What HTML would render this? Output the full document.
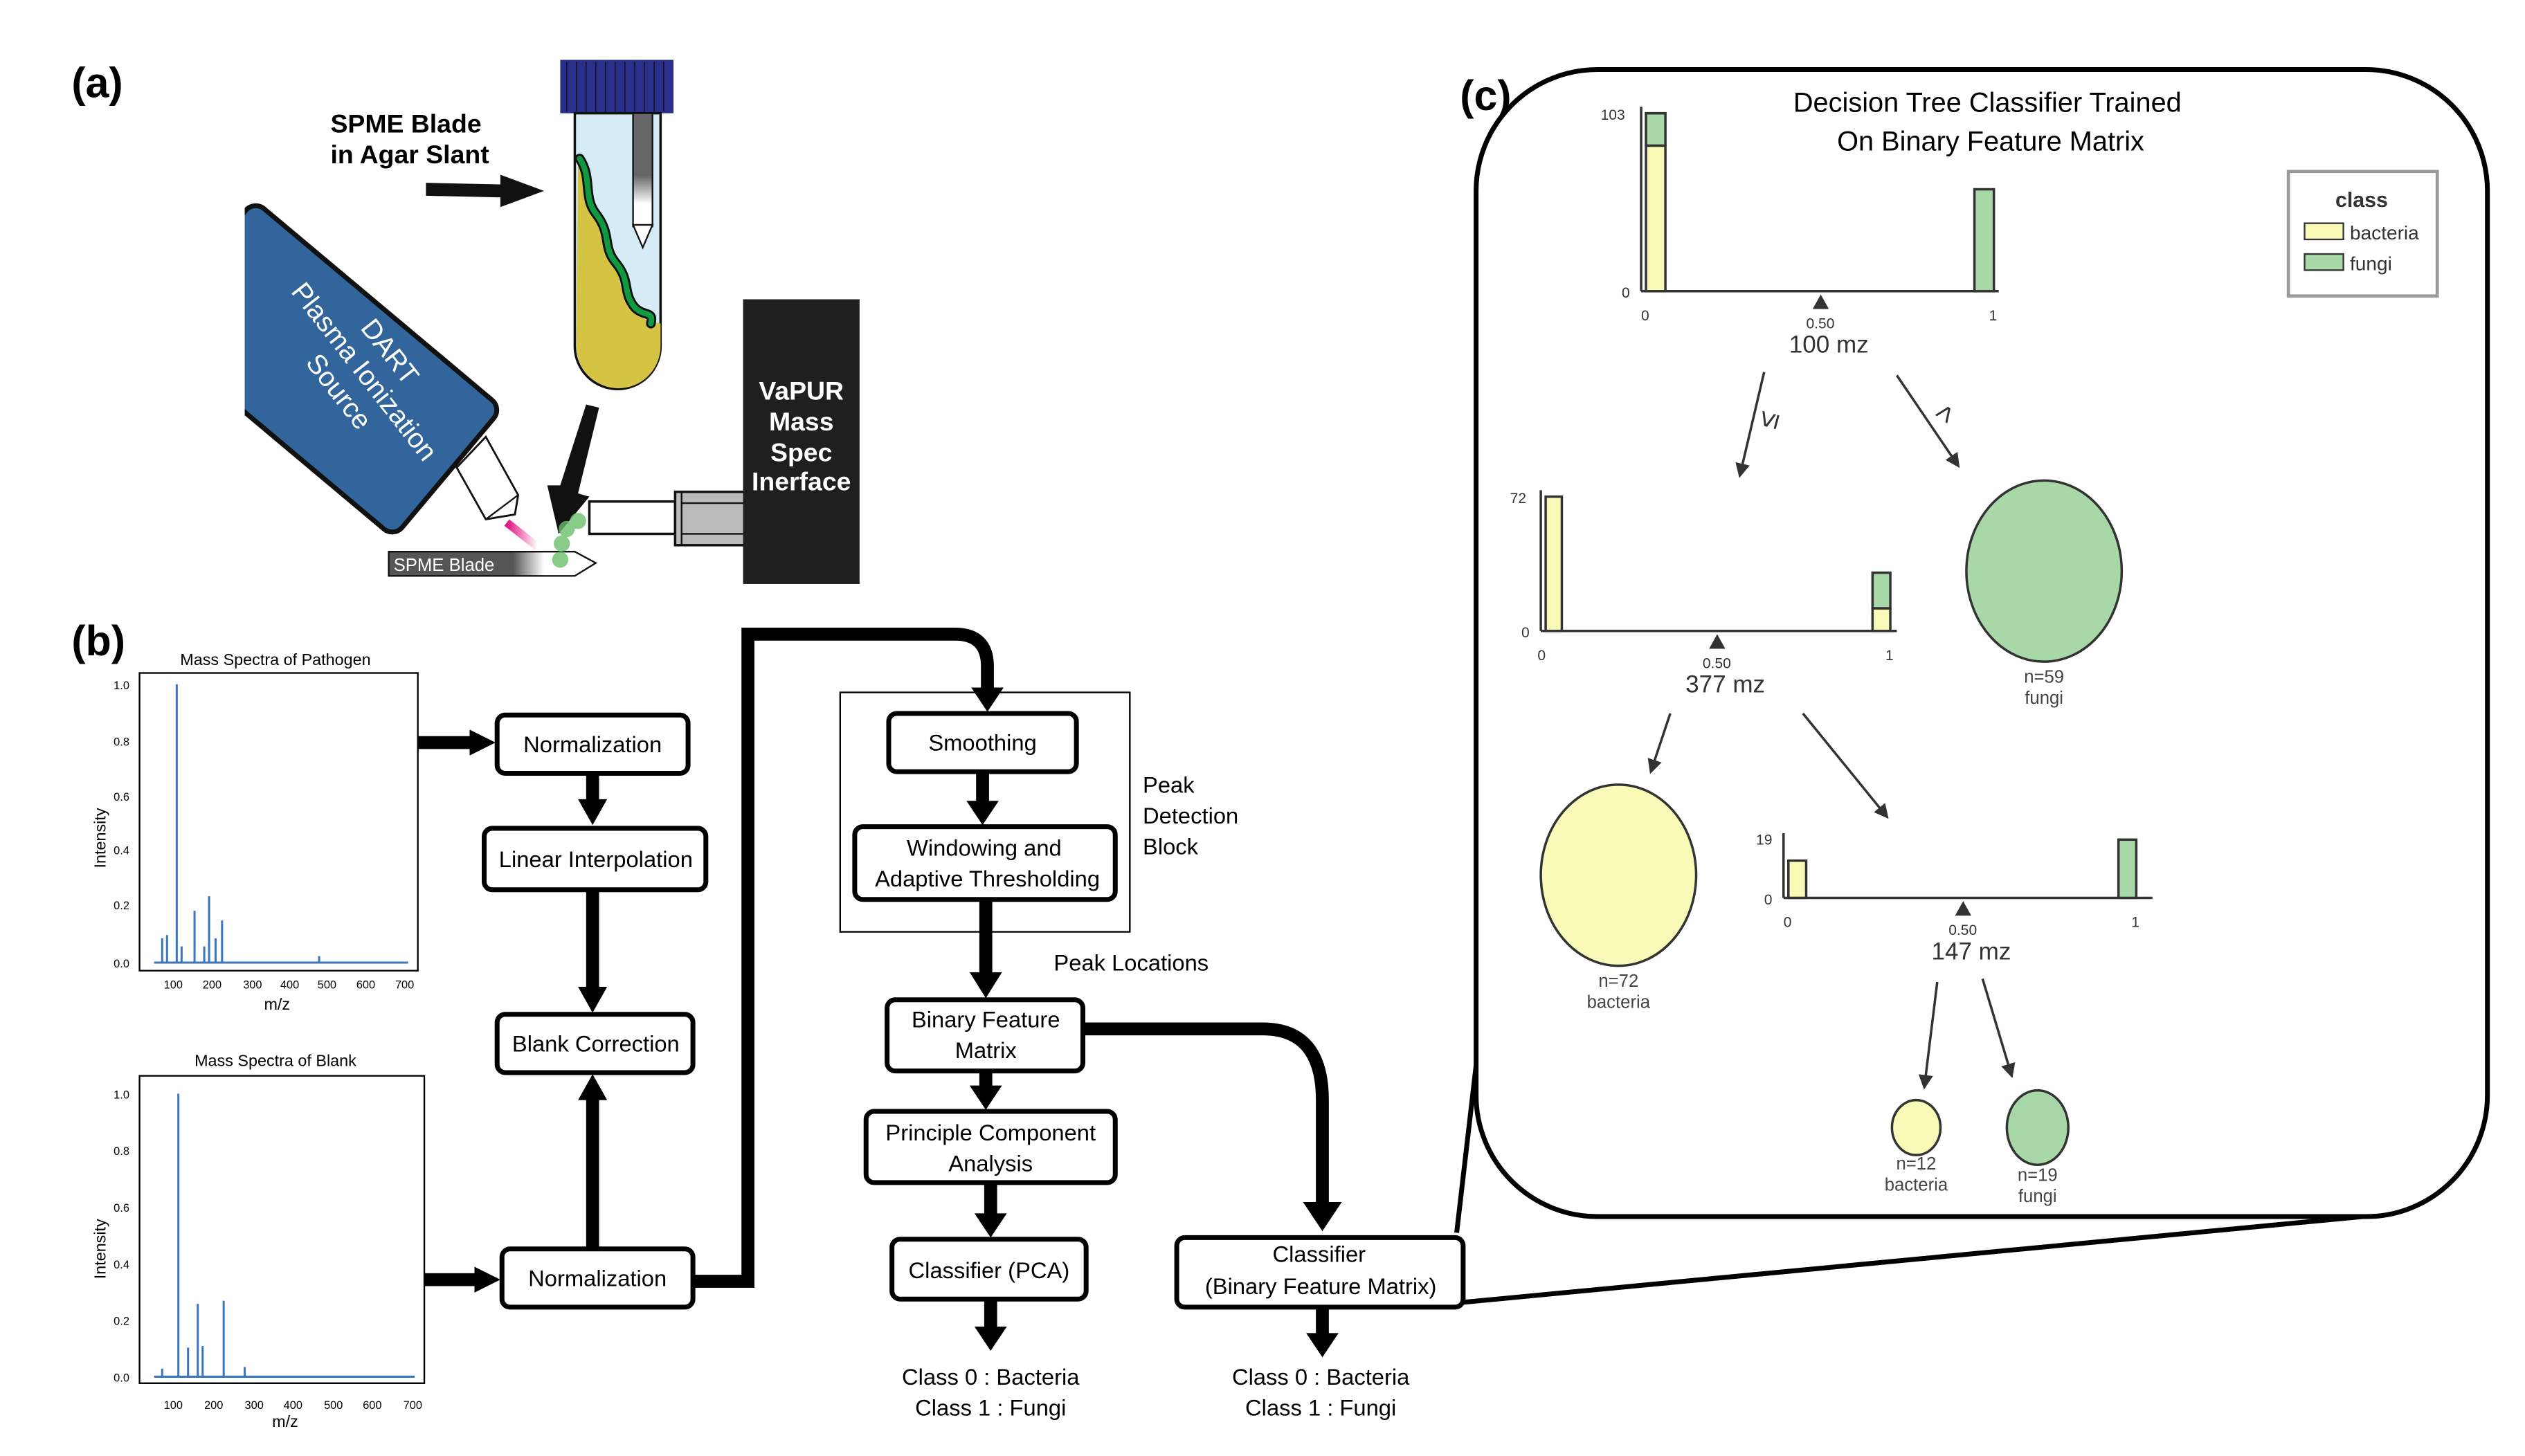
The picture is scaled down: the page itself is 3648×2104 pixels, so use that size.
<!DOCTYPE html>
<html><head><meta charset="utf-8"><style>
html,body{margin:0;padding:0;background:#fff}
svg{display:block}
text{font-family:"Liberation Sans",sans-serif}
.b{fill:#fff;stroke:#000;stroke-width:3}
.bt{font-size:14px;text-anchor:middle}
.ax{stroke:#000;stroke-width:1;fill:none}
.tk{font-size:7px}
</style></head><body>
<svg width="3648" height="2104" viewBox="0 0 1560 900" xmlns="http://www.w3.org/2000/svg">
<defs>
<marker id="ah" markerWidth="6" markerHeight="6" refX="5" refY="3" orient="auto"><path d="M0,0 L6,3 L0,6 z" fill="#333"/></marker>
<linearGradient id="gb" x1="0" x2="1"><stop offset="0.6" stop-color="#555"/><stop offset="0.75" stop-color="#fff"/></linearGradient>
<linearGradient id="gp" x1="0" x2="1"><stop offset="0" stop-color="#e0107f"/><stop offset="1" stop-color="#fff"/></linearGradient>
<linearGradient id="gs" x1="0" y1="0" x2="0" y2="1"><stop offset="0.55" stop-color="#666"/><stop offset="0.8" stop-color="#fff"/></linearGradient>
<clipPath id="cl"><rect x="151" y="0" width="400" height="400"/></clipPath>
</defs>
<!-- (a) -->
<text x="44" y="60" font-size="26" font-weight="bold">(a)</text>
<rect x="346" y="37" width="70" height="33" fill="#2a2f8c"/>
<g stroke="#111" stroke-width="0.6">
<line x1="350" y1="38" x2="350" y2="69"/><line x1="356" y1="38" x2="356" y2="69"/><line x1="362" y1="38" x2="362" y2="69"/><line x1="368" y1="38" x2="368" y2="69"/><line x1="374" y1="38" x2="374" y2="69"/><line x1="380" y1="38" x2="380" y2="69"/><line x1="386" y1="38" x2="386" y2="69"/><line x1="392" y1="38" x2="392" y2="69"/><line x1="398" y1="38" x2="398" y2="69"/><line x1="404" y1="38" x2="404" y2="69"/><line x1="410" y1="38" x2="410" y2="69"/></g>
<path d="M355,70 L355,214 A26.5,26.5 0 0 0 408,214 L408,70 Z" fill="#d5ebf5" stroke="#111" stroke-width="1.5"/>
<path d="M357,98 C362,110 362,125 368,135 C375,150 380,160 383,175 C387,190 393,195 400,198 L408,200 L408,214 A26,26 0 0 1 356,214 Z" fill="#d5c344"/>
<path d="M358,98 C366,110 360,122 368,132 C378,145 372,152 380,162 C390,174 384,180 392,190 C398,196 404,192 402,200" fill="none" stroke="#111" stroke-width="6" stroke-linecap="round"/>
<path d="M358,98 C366,110 360,122 368,132 C378,145 372,152 380,162 C390,174 384,180 392,190 C398,196 404,192 402,200" fill="none" stroke="#0f9a42" stroke-width="3.5" stroke-linecap="round"/>
<rect x="391" y="70" width="12" height="70" fill="url(#gs)" stroke="#111" stroke-width="1"/>
<path d="M391,139 L397,153 L403,139 Z" fill="#fff" stroke="#111" stroke-width="1"/>
<text x="204" y="82" font-size="16" font-weight="bold">SPME Blade</text>
<text x="204" y="101" font-size="16" font-weight="bold">in Agar Slant</text>
<path d="M263,113 L309,114 L309,108 L336,118 L309,128 L309,122 L263,121 Z" fill="#111"/>
<path d="M362,250 L370,252 L357,305 L364,307 L345,330 L338,300 L346,300 Z" fill="#111"/>
<path d="M282,289 L300,270 L320,306 L318,318 L300,321 Z" fill="#fff" stroke="#111" stroke-width="1.2"/>
<line x1="300" y1="321" x2="320" y2="306" stroke="#111" stroke-width="1"/>
<g clip-path="url(#cl)">
<g transform="translate(200,228) rotate(40)">
<rect x="-100" y="-52" width="200" height="104" rx="8" fill="#31659b" stroke="#111" stroke-width="3"/>
</g></g>
<g transform="translate(222,232) rotate(52)" fill="#fff" font-size="17" text-anchor="middle">
<text x="0" y="-18">DART</text><text x="0" y="2">Plasma Ionization</text><text x="0" y="22">Source</text></g>
<line x1="313" y1="323" x2="332" y2="338" stroke="url(#gp)" stroke-width="5"/>
<path d="M240,341 L355,341 L368,348 L355,356 L240,356 Z" fill="url(#gb)" stroke="#111" stroke-width="1"/>
<text x="243" y="353" font-size="11" fill="#fff">SPME Blade</text>
<g fill="#6cbf6c" opacity="0.8"><circle cx="346" cy="346" r="5"/><circle cx="347" cy="336" r="5"/><circle cx="350" cy="327" r="5"/><circle cx="357" cy="322" r="5"/></g>
<rect x="364" y="310" width="53" height="20" fill="#fff" stroke="#111" stroke-width="1.5"/>
<rect x="417" y="304" width="43" height="33" fill="#bbb" stroke="#111" stroke-width="1.5"/>
<line x1="421" y1="304" x2="421" y2="337" stroke="#111"/><line x1="421" y1="311" x2="460" y2="311" stroke="#111"/><line x1="421" y1="330" x2="460" y2="330" stroke="#111"/>
<rect x="459" y="185" width="72" height="176" fill="#1f1f1f"/>
<g font-size="16" font-weight="bold" fill="#fff" text-anchor="middle"><text x="495" y="247">VaPUR</text><text x="495" y="266">Mass</text><text x="495" y="285">Spec</text><text x="495" y="303">Inerface</text></g>
<!-- (b) -->
<text x="44" y="405" font-size="26" font-weight="bold">(b)</text>
<text x="170" y="411" font-size="10" text-anchor="middle">Mass Spectra of Pathogen</text>
<rect x="86" y="416" width="172" height="184" class="ax"/>
<g stroke="#3b76c0" stroke-width="1.3">
<line x1="95" y1="595" x2="252" y2="595"/><line x1="100" y1="595" x2="100" y2="580"/><line x1="103" y1="595" x2="103" y2="578"/><line x1="109" y1="595" x2="109" y2="423"/><line x1="112" y1="595" x2="112" y2="585"/><line x1="120" y1="595" x2="120" y2="563"/><line x1="126" y1="595" x2="126" y2="585"/><line x1="129" y1="595" x2="129" y2="554"/><line x1="133" y1="595" x2="133" y2="580"/><line x1="137" y1="595" x2="137" y2="569"/><line x1="197" y1="595" x2="197" y2="591"/></g>
<g class="tk"><text x="70" y="426">1.0</text><text x="70" y="461">0.8</text><text x="70" y="528">0.4</text><text x="70" y="562">0.2</text><text x="70" y="598">0.0</text><text x="70" y="495">0.6</text>
<text x="101" y="611">100</text><text x="125" y="611">200</text><text x="150" y="611">300</text><text x="173" y="611">400</text><text x="196" y="611">500</text><text x="220" y="611">600</text><text x="244" y="611">700</text></g>
<text x="171" y="624" font-size="10" text-anchor="middle">m/z</text>
<text x="65" y="518" font-size="10" transform="rotate(-90 65 518)" text-anchor="middle">Intensity</text>
<text x="170" y="659" font-size="10" text-anchor="middle">Mass Spectra of Blank</text>
<rect x="86" y="665" width="176" height="190" class="ax"/>
<g stroke="#3b76c0" stroke-width="1.3">
<line x1="95" y1="851" x2="256" y2="851"/><line x1="100" y1="851" x2="100" y2="846"/><line x1="110" y1="851" x2="110" y2="676"/><line x1="116" y1="851" x2="116" y2="833"/><line x1="122" y1="851" x2="122" y2="806"/><line x1="125" y1="851" x2="125" y2="832"/><line x1="138" y1="851" x2="138" y2="804"/><line x1="151" y1="851" x2="151" y2="845"/></g>
<g class="tk"><text x="70" y="679">1.0</text><text x="70" y="714">0.8</text><text x="70" y="749">0.6</text><text x="70" y="784">0.4</text><text x="70" y="819">0.2</text><text x="70" y="854">0.0</text>
<text x="101" y="871">100</text><text x="126" y="871">200</text><text x="151" y="871">300</text><text x="175" y="871">400</text><text x="200" y="871">500</text><text x="224" y="871">600</text><text x="249" y="871">700</text></g>
<text x="176" y="882" font-size="10" text-anchor="middle">m/z</text>
<text x="65" y="772" font-size="10" transform="rotate(-90 65 772)" text-anchor="middle">Intensity</text>
<!-- thick arrows -->
<g stroke="#000" stroke-width="8" fill="none">
<line x1="258" y1="459" x2="293" y2="459"/><line x1="262" y1="791" x2="296" y2="791"/>
<line x1="366" y1="478" x2="366" y2="497"/><line x1="366" y1="550" x2="366" y2="612"/>
<line x1="366" y1="772" x2="366" y2="678"/>
<path d="M428,792 L462,792 L462,392 L590,392 Q610,392 610,412 L610,426"/>
<line x1="607" y1="477" x2="607" y2="497"/><line x1="609" y1="556" x2="609" y2="603"/>
<line x1="609" y1="662" x2="609" y2="673"/><line x1="612" y1="731" x2="612" y2="752"/>
<line x1="612" y1="803" x2="612" y2="822"/><line x1="817" y1="808" x2="817" y2="826"/>
<path d="M669,636 L780,636 Q817,636 817,680 L817,745"/>
</g>
<g fill="#000">
<path d="M290,451 L306,459 L290,467Z"/><path d="M293,783 L309,791 L293,799Z"/>
<path d="M357,494 L375,494 L366,510Z"/><path d="M357,610 L375,610 L366,626Z"/>
<path d="M357,680 L375,680 L366,664Z"/>
<path d="M600,425 L620,425 L610,440Z"/><path d="M597,495 L617,495 L607,510Z"/>
<path d="M599,601 L619,601 L609,617Z"/><path d="M599,671 L619,671 L609,686Z"/>
<path d="M602,750 L622,750 L612,765Z"/><path d="M602,820 L622,820 L612,835Z"/>
<path d="M807,824 L827,824 L817,839Z"/><path d="M805,743 L829,743 L817,761Z"/>
</g>
<rect x="519" y="428" width="179" height="148" fill="none" stroke="#000" stroke-width="1"/>
<rect class="b" x="307" y="442" width="118" height="36" rx="5"/><text class="bt" x="366" y="465">Normalization</text>
<rect class="b" x="299" y="512" width="137" height="38" rx="5"/><text class="bt" x="368" y="536">Linear Interpolation</text>
<rect class="b" x="307" y="627" width="121" height="36" rx="5"/><text class="bt" x="368" y="650">Blank Correction</text>
<rect class="b" x="310" y="772" width="118" height="36" rx="5"/><text class="bt" x="369" y="795">Normalization</text>
<rect class="b" x="549" y="441" width="116" height="36" rx="5"/><text class="bt" x="607" y="464">Smoothing</text>
<rect class="b" x="528" y="511" width="161" height="45" rx="5"/><text class="bt" x="608" y="529">Windowing and</text><text class="bt" x="610" y="548">Adaptive Thresholding</text>
<rect class="b" x="548" y="618" width="121" height="44" rx="5"/><text class="bt" x="609" y="635">Binary Feature</text><text class="bt" x="609" y="654">Matrix</text>
<rect class="b" x="535" y="687" width="154" height="44" rx="5"/><text class="bt" x="612" y="705">Principle Component</text><text class="bt" x="612" y="724">Analysis</text>
<rect class="b" x="551" y="766" width="120" height="37" rx="5"/><text class="bt" x="611" y="790">Classifier (PCA)</text>
<rect class="b" x="727" y="765" width="177" height="43" rx="5"/><text class="bt" x="815" y="780">Classifier</text><text class="bt" x="816" y="800">(Binary Feature Matrix)</text>
<g font-size="14"><text x="706" y="490">Peak</text><text x="706" y="509">Detection</text><text x="706" y="528">Block</text><text x="651" y="600">Peak Locations</text></g>
<g class="bt"><text x="612" y="856">Class 0 : Bacteria</text><text x="612" y="875">Class 1 : Fungi</text><text x="816" y="856">Class 0 : Bacteria</text><text x="816" y="875">Class 1 : Fungi</text></g>
<!-- (c) -->
<line x1="904" y1="805" x2="1460" y2="752" stroke="#000" stroke-width="3"/>
<line x1="900" y1="762" x2="913" y2="650" stroke="#000" stroke-width="3"/>
<rect x="912" y="43" width="625" height="709" rx="75" fill="#fff" stroke="#000" stroke-width="3"/>
<text x="902" y="68" font-size="26" font-weight="bold">(c)</text>
<text x="1228" y="69" font-size="17" text-anchor="middle">Decision Tree Classifier Trained</text>
<text x="1230" y="93" font-size="17" text-anchor="middle">On Binary Feature Matrix</text>
<rect x="1414" y="106" width="92" height="77" fill="#fff" stroke="#999" stroke-width="2"/>
<text x="1443" y="128" font-size="13" font-weight="bold" fill="#333">class</text>
<rect x="1424" y="138" width="24" height="10" fill="#fafab8" stroke="#333"/><text x="1452" y="148" font-size="12" fill="#333">bacteria</text>
<rect x="1424" y="157" width="24" height="10" fill="#a8d8a8" stroke="#333"/><text x="1452" y="167" font-size="12" fill="#333">fungi</text>
<g stroke="#333" stroke-width="1.5">
<line x1="1014" y1="66" x2="1014" y2="180"/><line x1="1014" y1="180" x2="1235" y2="180"/>
<rect x="1017" y="90" width="12" height="90" fill="#fafab8"/><rect x="1017" y="70" width="12" height="20" fill="#a8d8a8"/>
<rect x="1220" y="117" width="12" height="63" fill="#a8d8a8"/>
<line x1="952" y1="303" x2="952" y2="390"/><line x1="952" y1="390" x2="1172" y2="390"/>
<rect x="955" y="307" width="10" height="83" fill="#fafab8"/>
<rect x="1157" y="376" width="11" height="14" fill="#fafab8"/><rect x="1157" y="354" width="11" height="22" fill="#a8d8a8"/>
<line x1="1102" y1="515" x2="1102" y2="555"/><line x1="1102" y1="555" x2="1330" y2="555"/>
<rect x="1105" y="532" width="11" height="23" fill="#fafab8"/><rect x="1309" y="519" width="11" height="36" fill="#a8d8a8"/>
</g>
<g fill="#333"><path d="M1120,191 L1125,182 L1130,191Z"/><path d="M1056,401 L1061,392 L1066,401Z"/><path d="M1208,566 L1213,557 L1218,566Z"/></g>
<g font-size="9" fill="#333"><text x="989" y="74">103</text><text x="1002" y="184">0</text><text x="1014" y="198">0</text><text x="1229" y="198">1</text><text x="1116" y="203">0.50</text>
<text x="933" y="311">72</text><text x="940" y="394">0</text><text x="950" y="408">0</text><text x="1165" y="408">1</text><text x="1052" y="413">0.50</text>
<text x="1085" y="522">19</text><text x="1090" y="559">0</text><text x="1102" y="573">0</text><text x="1317" y="573">1</text><text x="1204" y="578">0.50</text></g>
<g font-size="15" fill="#333" text-anchor="middle"><text x="1130" y="218">100 mz</text><text x="1066" y="428">377 mz</text><text x="1218" y="593">147 mz</text></g>
<g stroke="#333" stroke-width="1.5" marker-end="url(#ah)">
<line x1="1090" y1="230" x2="1075" y2="294"/><line x1="1172" y1="232" x2="1210" y2="288"/>
<line x1="1032" y1="441" x2="1020" y2="477"/><line x1="1114" y1="441" x2="1166" y2="505"/>
<line x1="1197" y1="607" x2="1189" y2="672"/><line x1="1225" y1="605" x2="1243" y2="665"/>
</g>
<text x="1088" y="262" font-size="18" fill="#333" transform="rotate(-75 1095 258)">≤</text>
<text x="1200" y="260" font-size="18" fill="#333" transform="rotate(-55 1205 258)">&gt;</text>
<g stroke="#333" stroke-width="1.5">
<ellipse cx="1263" cy="353" rx="48" ry="56" fill="#a8d8a8"/>
<ellipse cx="1000" cy="541" rx="48" ry="56" fill="#fafab8"/>
<ellipse cx="1184" cy="697" rx="15" ry="17" fill="#fafab8"/>
<ellipse cx="1259" cy="697" rx="19" ry="23" fill="#a8d8a8"/>
</g>
<g font-size="11" fill="#444" text-anchor="middle"><text x="1263" y="422">n=59</text><text x="1263" y="435">fungi</text>
<text x="1000" y="610">n=72</text><text x="1000" y="623">bacteria</text>
<text x="1184" y="723">n=12</text><text x="1184" y="736">bacteria</text>
<text x="1259" y="730">n=19</text><text x="1259" y="743">fungi</text></g>
</svg>
</body></html>
